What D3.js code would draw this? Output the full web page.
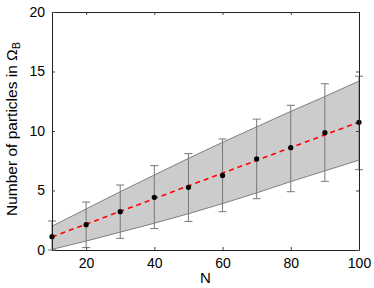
<!DOCTYPE html>
<html>
<head>
<meta charset="utf-8">
<script src="https://cdn.jsdelivr.net/npm/d3@7"></script>
<style>
  body { margin: 0; background: #fff; }
  text { font-family: "Liberation Sans", Arial, sans-serif; }
</style>
</head>
<body>
<svg id="chart" width="374" height="288"></svg>
<script>
// values
var nValues = [10, 20, 30, 40, 50, 60, 70, 80, 90, 100]
var means = [1.12, 2.13, 3.22, 4.43, 5.27, 6.27, 7.65, 8.6, 9.86, 10.73]
var errTop = [2.44, 4.03, 5.46, 7.09, 8.1, 9.33, 11.0, 12.16, 13.97, 14.6]
var errBottom = [0, 0.2, 0.98, 1.8, 2.4, 3.22, 4.31, 4.9, 5.77, 6.75]
var bandUpper = [2.0, 3.45, 4.9, 6.3, 7.7, 9.05, 10.35, 11.65, 12.9, 14.2]
var bandLower = [0.05, 0.75, 1.5, 2.25, 3.05, 3.9, 4.8, 5.75, 6.65, 7.55]
var fitLine = [[10, 1.1], [100, 10.75]]
var xTicks = [20, 40, 60, 80, 100]
var yTicks = [0, 5, 10, 15, 20]

var margin = {left: 52, top: 12, right: 15, bottom: 38}
var width = 374, height = 288

var svg = d3.select("#chart")

var x = d3.scaleLinear().domain([10, 100]).range([margin.left, width - margin.right])
var y = d3.scaleLinear().domain([0, 20]).range([height - margin.bottom, margin.top])

var rows = nValues.map((n, i) => ({n: n, mean: means[i], top: errTop[i], bottom: errBottom[i], up: bandUpper[i], lo: bandLower[i]}))

// gray band
svg.append("path")
    .datum(rows)
    .attr("d", d3.area().x(d => x(d.n)).y0(d => y(d.lo)).y1(d => y(d.up)))
    .attr("fill", "#cccccc")

svg.append("path")
    .datum(rows)
    .attr("d", d3.line().x(d => x(d.n)).y(d => y(d.up)))
    .attr("fill", "none").attr("stroke", "#666").attr("stroke-width", 0.8)

svg.append("path")
    .datum(rows)
    .attr("d", d3.line().x(d => x(d.n)).y(d => y(d.lo)))
    .attr("fill", "none").attr("stroke", "#666").attr("stroke-width", 0.8)

// error bars
var bars = svg.append("g").attr("stroke", "#777").attr("stroke-width", 1)
bars.selectAll(".v").data(rows).enter().append("line")
    .attr("x1", d => x(d.n)).attr("x2", d => x(d.n))
    .attr("y1", d => y(d.top)).attr("y2", d => y(d.bottom))
bars.selectAll(".t").data(rows).enter().append("line")
    .attr("x1", d => x(d.n) - 4).attr("x2", d => x(d.n) + 4)
    .attr("y1", d => y(d.top)).attr("y2", d => y(d.top))
bars.selectAll(".b").data(rows).enter().append("line")
    .attr("x1", d => x(d.n) - 4).attr("x2", d => x(d.n) + 4)
    .attr("y1", d => y(d.bottom)).attr("y2", d => y(d.bottom))

// red dashed fit
svg.append("path")
    .datum(fitLine)
    .attr("d", d3.line().x(d => x(d[0])).y(d => y(d[1])))
    .attr("fill", "none").attr("stroke", "#ff0000").attr("stroke-width", 1.6)
    .attr("stroke-dasharray", "5,4")

// points
svg.selectAll(".pt").data(rows).enter().append("circle")
    .attr("cx", d => x(d.n)).attr("cy", d => y(d.mean)).attr("r", 2.6)
    .attr("fill", "#000")

// axes, box style with inward ticks
var xAxis = svg.append("g").attr("transform", `translate(0,${y(0)})`)
    .call(d3.axisBottom(x).tickValues(xTicks).tickSizeInner(-3).tickSizeOuter(0).tickPadding(8))
var xTop = svg.append("g").attr("transform", `translate(0,${y(20)})`)
    .call(d3.axisTop(x).tickValues(xTicks).tickSizeInner(-3).tickSizeOuter(0).tickFormat(""))
var yAxis = svg.append("g").attr("transform", `translate(${x(10)},0)`)
    .call(d3.axisLeft(y).tickValues(yTicks).tickSizeInner(-3).tickSizeOuter(0).tickPadding(7))
var yRight = svg.append("g").attr("transform", `translate(${x(100)},0)`)
    .call(d3.axisRight(y).tickValues(yTicks).tickSizeInner(-3).tickSizeOuter(0).tickFormat(""))

svg.selectAll(".domain").attr("stroke", "#222")
svg.selectAll(".tick line").attr("stroke", "#444")
svg.selectAll(".tick text").attr("font-size", 14).attr("fill", "#000")
    .style("font-family", "'Liberation Sans', Arial, sans-serif")

// axis labels
svg.append("text")
    .attr("x", (x(10) + x(100)) / 2).attr("y", 283)
    .attr("text-anchor", "middle").attr("font-size", 15)
    .text("N")

var yl = svg.append("text")
    .attr("transform", `translate(17,129) rotate(-90)`)
    .attr("text-anchor", "middle").attr("font-size", 15.5)
yl.append("tspan").text("Number of particles in Ω")
yl.append("tspan").attr("font-size", 11).attr("dy", 3).text("B")
</script>
</body>
</html>
